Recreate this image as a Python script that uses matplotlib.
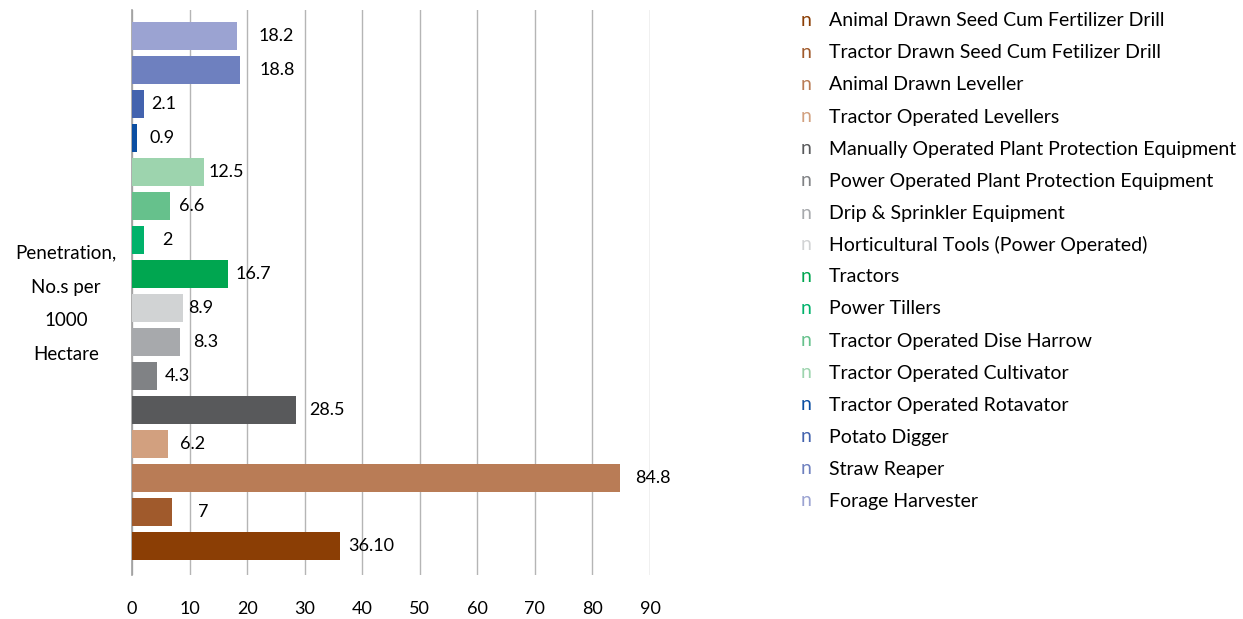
import matplotlib
matplotlib.use('Agg')
import matplotlib.pyplot as plt

plt.rcParams['font.family'] = ['Lato', 'DejaVu Sans']

# Data, from bottom bar to top bar (same order as legend top to bottom)
equipment = [
    'Animal Drawn Seed Cum Fertilizer Drill',
    'Tractor Drawn Seed Cum Fetilizer Drill',
    'Animal Drawn Leveller',
    'Tractor Operated Levellers',
    'Manually Operated Plant Protection Equipment',
    'Power Operated Plant Protection Equipment',
    'Drip & Sprinkler Equipment',
    'Horticultural Tools (Power Operated)',
    'Tractors',
    'Power Tillers',
    'Tractor Operated Dise Harrow',
    'Tractor Operated Cultivator',
    'Tractor Operated Rotavator',
    'Potato Digger',
    'Straw Reaper',
    'Forage Harvester',
]
penetration = [36.10, 7, 84.8, 6.2, 28.5, 4.3, 8.3, 8.9, 16.7, 2, 6.6, 12.5, 0.9, 2.1, 18.8, 18.2]
value_labels = ['36.10', '7', '84.8', '6.2', '28.5', '4.3', '8.3', '8.9',
                '16.7', '2', '6.6', '12.5', '0.9', '2.1', '18.8', '18.2']
x_ticks = [0, 10, 20, 30, 40, 50, 60, 70, 80, 90]

colors = ['#8B3E05', '#A05A2C', '#B97C56', '#D2A07F',
          '#58595B', '#808285', '#A7A9AC', '#D1D3D4',
          '#00A650', '#00B26B', '#66C18C', '#9DD4AE',
          '#0B4EA2', '#4363AE', '#6E80BF', '#9BA3D2']
# gap (px) between bar end and its label, as placed in the original
label_pad = [8, 26, 15, 12, 13, 8, 13, 5, 7, 19, 9, 5, 12, 7, 19, 22]

W, H = 1243, 619
fig = plt.figure(figsize=(W / 100, H / 100), dpi=100)
ax = fig.add_axes([132 / W, 1 - 575 / H, (650 - 132) / W, (575 - 10) / H])

ypos = list(range(len(penetration)))
bars = ax.barh(ypos, penetration, height=0.82, color=colors, zorder=3)

for bar, lab, pad in zip(bars, value_labels, label_pad):
    ax.annotate(lab, (bar.get_width(), bar.get_y() + bar.get_height() / 2),
                xytext=(pad * 0.72, 0), textcoords='offset points',
                ha='left', va='center', fontsize=13, color='black',
                annotation_clip=False)

ax.set_xlim(0, 90)
ax.set_ylim(-0.85, 15.77)
ax.set_xticks(x_ticks)
ax.set_xticklabels([str(t) for t in x_ticks], fontsize=13)
ax.set_yticks([])
ax.tick_params(axis='x', length=0, pad=19)
ax.grid(axis='x', color='#B5B5B5', linewidth=1, zorder=0)
for side in ['top', 'right', 'bottom']:
    ax.spines[side].set_visible(False)
ax.spines['left'].set_color('#A0A0A0')
ax.spines['left'].set_linewidth(1.2)

fig.text(66 / W, 1 - 304 / H, 'Penetration,\nNo.s per\n1000\nHectare',
         ha='center', va='center', fontsize=13.5, linespacing=2.2)

# legend drawn as coloured "n" markers + labels, like the source
for i, (name, c) in enumerate(zip(equipment, colors)):
    y = 1 - (21 + 32 * i) / H
    fig.text(806 / W, y, 'n', color=c, fontsize=14, ha='center', va='center')
    fig.text(829 / W, y, name, color='black', fontsize=14, ha='left', va='center')

plt.savefig('out.png', dpi=100)
plt.close()
